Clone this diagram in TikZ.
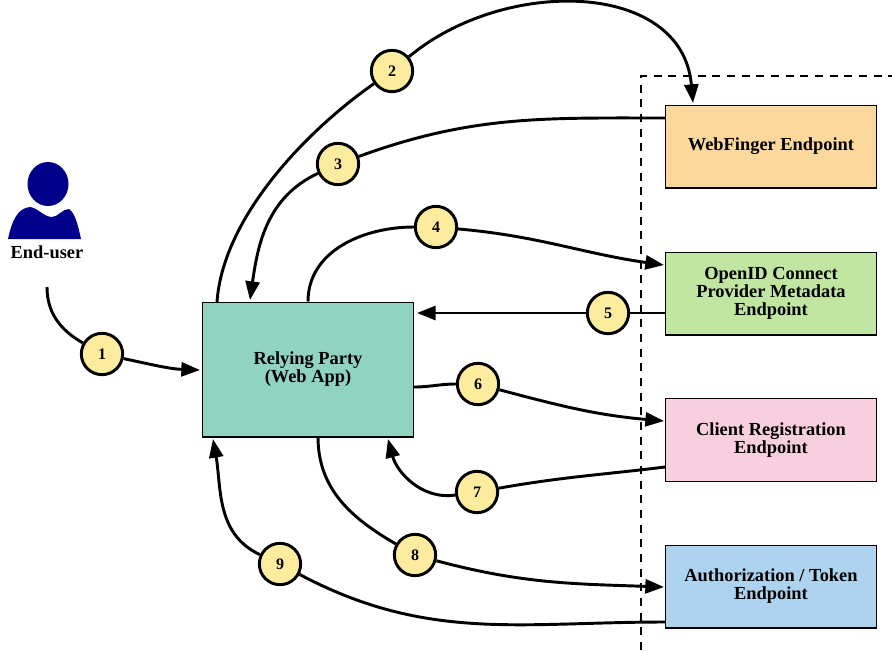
\documentclass[tikz,border=0pt]{standalone}
\usepackage{fontspec}
\setmainfont{Liberation Serif}
\usetikzlibrary{arrows.meta}
\definecolor{rpcolor}{HTML}{90D3C1}
\definecolor{wfcolor}{HTML}{FDD89C}
\definecolor{mdcolor}{HTML}{C0E6A1}
\definecolor{crcolor}{HTML}{F8CFDF}
\definecolor{azcolor}{HTML}{AED3EE}
\definecolor{numcolor}{HTML}{FDEC9E}
\definecolor{usercolor}{HTML}{00008B}
\tikzset{
  label font/.style={font=\bfseries\fontsize{13.8}{13.5}\selectfont},
  endpoint/.style={draw,line width=1pt,minimum width=158.5pt,minimum height=62pt,align=center,inner sep=1pt,label font},
  num/.style={circle,draw,line width=2.2pt,fill=numcolor,minimum size=31pt,inner sep=0pt,font=\bfseries\fontsize{12}{12}\selectfont},
}

\begin{document}
\begin{tikzpicture}[x=0.75pt,y=-0.75pt,>={Triangle[length=14pt,width=10.5pt]}]
  \useasboundingbox (0,0) rectangle (892,651);

  \draw[line width=1.4pt,dash pattern=on 6pt off 5pt] (641,650) -- (641,76) -- (892,76);

  % end-user
  \fill[usercolor] (48,184) ellipse [x radius=20.5,y radius=22];
  \fill[usercolor] (8,239) .. controls (12,220) and (18,208) .. (30,207)
    .. controls (38,208) and (44,217) .. (52,217)
    .. controls (58,217) and (62,209) .. (69,209)
    .. controls (75,213) and (78,225) .. (81,239) -- cycle;

  \path
  node[label font] (user) at (47,252) {End-user}
  node[endpoint,fill=rpcolor,minimum height=101pt] (rp) at (308,369.5) {Relying Party\\(Web App)}
  node[endpoint,fill=wfcolor] (wf) at (771,146.5) {WebFinger Endpoint}
  node[endpoint,fill=mdcolor] (md) at (771,293.5) {OpenID Connect\\Provider Metadata\\Endpoint}
  node[endpoint,fill=crcolor] (cr) at (771,440) {Client Registration\\Endpoint}
  node[endpoint,fill=azcolor] (az) at (771,586.5) {Authorization / Token\\Endpoint}
  ;
  \coordinate (user_out) at (47,287);
  \coordinate (rp_in1) at (200,370);
  \coordinate (rp_out2) at (217,302);
  \coordinate (wf_in2) at (693,103);
  \coordinate (wf_out3) at (665,118);
  \coordinate (rp_in3) at (250,300);
  \coordinate (md_in4) at (664,265);
  \coordinate (md_out5) at (665,313);
  \coordinate (rp_in5) at (417,313);
  \coordinate (rp_out6) at (414,387);
  \coordinate (cr_in6) at (664,421);
  \coordinate (cr_out7) at (665,467);
  \coordinate (rp_in7) at (388,439);
  \coordinate (rp_out8) at (318,437);
  \coordinate (az_in8) at (664,587);
  \coordinate (az_out9) at (665,622);
  \coordinate (rp_in9) at (213,439);

  \path
  node[num] (n1) at (102,354) {1}
  node[num] (n2) at (392,71) {2}
  node[num] (n3) at (338,164) {3}
  node[num] (n4) at (436,227) {4}
  node[num] (n5) at (608,313) {5}
  node[num] (n6) at (478,384) {6}
  node[num] (n7) at (477,492) {7}
  node[num] (n8) at (415,555) {8}
  node[num] (n9) at (280,564) {9}
  ;

  \path[line width=2.2pt,->]
  (user_out) edge[-,out=-90,in=150] (n1)
  (n1) edge[out=-12,in=178] (rp_in1)
  (rp_out2) edge[-,out=86,in=215,looseness=0.8] (n2)
  (n2) edge[out=40,in=95,looseness=1.1] (wf_in2)
  (wf_out3) edge[-,out=180,in=20] (n3)
  (n3) edge[out=205,in=82] (rp_in3)
  (rp.north) edge[-,out=90,in=180] (n4)
  (n4) edge[out=-5,in=172] (md_in4)
  (md_out5) edge[-] (n5)
  (n5) edge (rp_in5)
  (rp_out6) edge[-,out=0,in=180] (n6)
  (n6) edge[out=-15,in=175] (cr_in6)
  (cr_out7) edge[-,out=187,in=10] (n7)
  (n7) edge[out=188,in=-75] (rp_in7)
  (rp_out8) edge[-,out=-90,in=150] (n8)
  (n8) edge[out=-15,in=178] (az_in8)
  (az_out9) edge[-,out=180,in=-28] (n9)
  (n9) edge[out=155,in=-80] (rp_in9)
  ;
\end{tikzpicture}
\end{document}
